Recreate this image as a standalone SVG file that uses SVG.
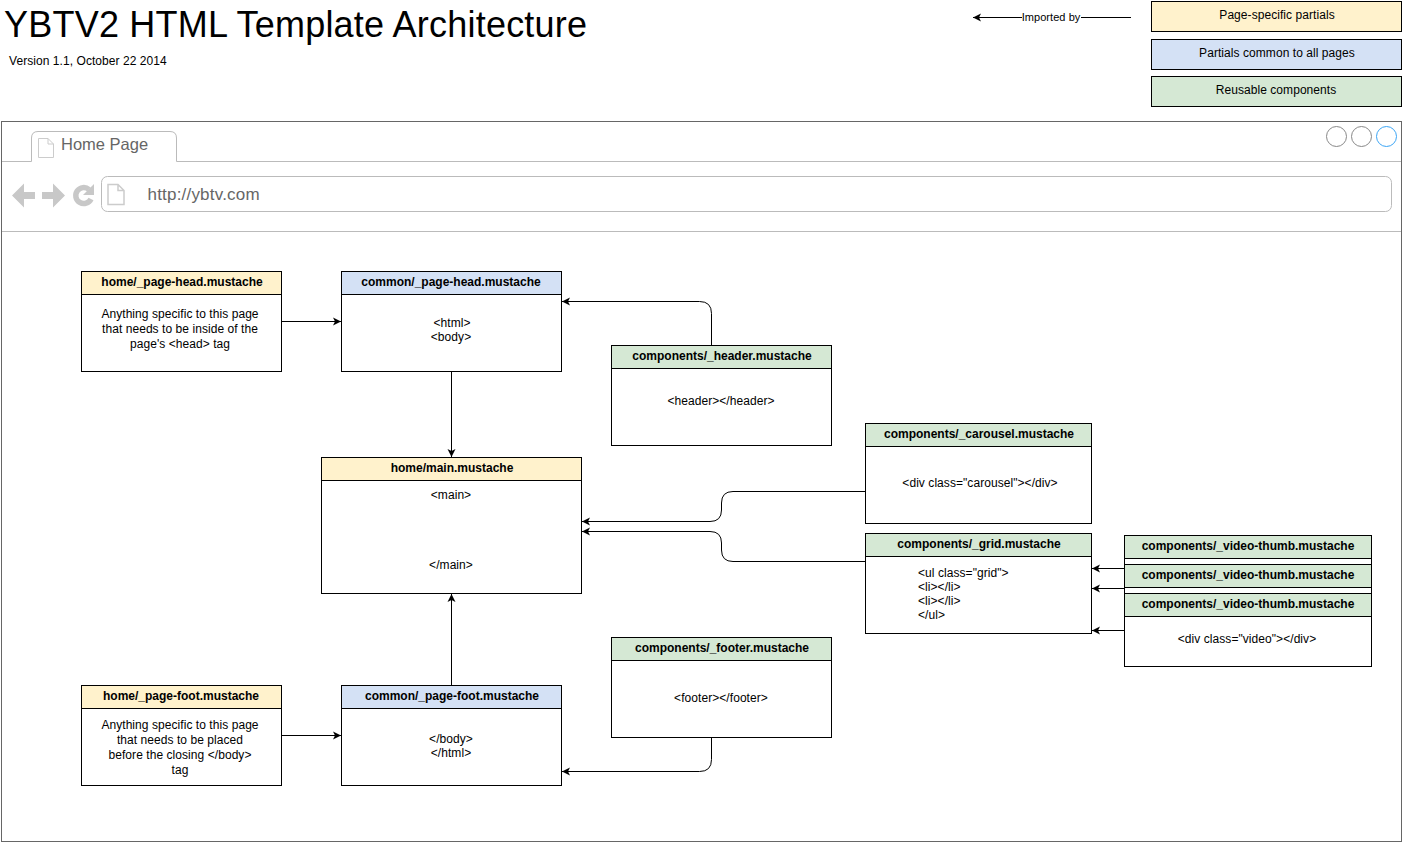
<svg xmlns="http://www.w3.org/2000/svg" width="1404" height="846" viewBox="0 0 1404 846">
<style>
text{font-family:"Liberation Sans",Arial,sans-serif;font-size:12px;fill:#000;text-anchor:middle;letter-spacing:.06px}
text.b{font-weight:bold;letter-spacing:0}
text.s{text-anchor:start}
rect.n{fill:#fff;stroke:#000;stroke-width:1}
rect.y{fill:#fff2cc;stroke:#000;stroke-width:1}
rect.c{fill:#d4e1f5;stroke:#000;stroke-width:1}
rect.g{fill:#d5e8d4;stroke:#000;stroke-width:1}
.l{fill:none;stroke:#000;stroke-width:1;marker-end:url(#a)}
.ui{fill:none;stroke:#bbb;stroke-width:1}
.t{fill:#666;font-size:17px}
</style>
<defs>
<marker id="a" markerUnits="userSpaceOnUse" markerWidth="10" markerHeight="10" refX="8" refY="4" orient="auto" viewBox="0 0 10 8"><path d="M8 4L0 0L2 4L0 8Z" fill="#000"/></marker>
</defs>
<rect width="1404" height="846" fill="#fff"/>
<g id="title">
<text x="4" y="37" class="s" style="font-size:36px;letter-spacing:.22px">YBTV2 HTML Template Architecture</text>
<text x="9" y="65" class="s">Version 1.1, October 22 2014</text>
</g>
<g id="legend">
<rect class="y" x="1151.500" y="1.500" width="250" height="30"/><text x="1277" y="19">Page-specific partials</text>
<rect class="c" x="1151.500" y="39.500" width="250" height="30"/><text x="1277" y="57">Partials common to all pages</text>
<rect class="g" x="1151.500" y="76.500" width="250" height="30"/><text x="1276" y="94">Reusable components</text>
</g>
<g id="browser">
<rect x="1.500" y="121.500" width="1400" height="720" fill="#fff" stroke="#666"/>
<path class="ui" d="M2 161.500H31.500V138Q31.500 131.500 38 131.500H170Q176.500 131.500 176.500 138V161.500H1401"/>
<path class="ui" d="M2 231.500H1401"/>
<path d="M38.500 138.500H48L53.500 144V157.500H38.500Z M48 138.500V144H53.500" fill="#fff" stroke="#ccc"/>
<text x="61" y="150" class="s t" style="font-size:16.500px;letter-spacing:0">Home Page</text>
<rect class="ui" x="101.500" y="176.500" width="1290" height="35" rx="6"/>
<path d="M108 184.500H118L124 190.500V204.500H108Z M118 184.500V190.500H124" fill="#fff" stroke="#ccc" stroke-width="1.500"/>
<text x="147.500" y="200" class="s t" style="letter-spacing:.2px">http://ybtv.com</text>
<path d="M12 195.500L24 183.500V192H35V199H24V207.500Z" fill="#c8c8c8"/>
<path d="M65 195.500L53 183.500V192H42V199H53V207.500Z" fill="#c8c8c8"/>
<path d="M89 189.500A8 8 0 1 0 91 199" fill="none" stroke="#c8c8c8" stroke-width="5.500"/>
<path d="M94 184V195H83Z" fill="#c8c8c8"/>
<circle cx="1336.500" cy="136.500" r="10" fill="none" stroke="#888"/>
<circle cx="1361.500" cy="136.500" r="10" fill="none" stroke="#888"/>
<circle cx="1386.500" cy="136.500" r="10" fill="none" stroke="#3ba5f5"/>
</g>
<g id="connectors">
<path class="l" d="M1131 17.500H973"/>
<path class="l" d="M282 321.500H341"/>
<path class="l" d="M451.500 372V457"/>
<path class="l" d="M711.500 346V313.500Q711.500 301.500 699.500 301.500H562"/>
<path class="l" d="M866 491.500H733Q721.500 491.500 721.500 503V510Q721.500 521.500 710 521.500H582"/>
<path class="l" d="M866 561.500H733Q721.500 561.500 721.500 550V543Q721.500 531.500 710 531.500H582"/>
<path class="l" d="M451.500 686V594"/>
<path class="l" d="M282 735.500H341"/>
<path class="l" d="M711.500 738V759.500Q711.500 771.500 699.500 771.500H562"/>
<path class="l" d="M1125 568.500H1092"/>
<path class="l" d="M1125 588.500H1092"/>
<path class="l" d="M1125 630.500H1092"/>
</g>
<rect x="1022" y="10" width="59" height="14" fill="#fff"/>
<text x="1051" y="21" style="font-size:11px">Imported by</text>
<g id="home-page-head">
<rect class="n" x="81.500" y="271.500" width="200" height="100"/><rect class="y" x="81.500" y="271.500" width="200" height="23"/>
<text class="b" x="182" y="286">home/_page-head.mustache</text>
<text x="180" y="318">Anything specific to this page</text><text x="180" y="333">that needs to be inside of the</text><text x="180" y="348">page's &lt;head&gt; tag</text>
</g>
<g id="common-page-head">
<rect class="n" x="341.500" y="271.500" width="220" height="100"/><rect class="c" x="341.500" y="271.500" width="220" height="23"/>
<text class="b" x="451" y="286">common/_page-head.mustache</text>
<text x="452" y="327">&lt;html&gt;</text><text x="451" y="341">&lt;body&gt;</text>
</g>
<g id="header">
<rect class="n" x="611.500" y="345.500" width="220" height="100"/><rect class="g" x="611.500" y="345.500" width="220" height="23"/>
<text class="b" x="722" y="360">components/_header.mustache</text>
<text x="721" y="405">&lt;header&gt;&lt;/header&gt;</text>
</g>
<g id="home-main">
<rect class="n" x="321.500" y="457.500" width="260" height="136"/><rect class="y" x="321.500" y="457.500" width="260" height="23"/>
<text class="b" x="452" y="472">home/main.mustache</text>
<text x="451" y="499">&lt;main&gt;</text><text x="451" y="569">&lt;/main&gt;</text>
</g>
<g id="carousel">
<rect class="n" x="865.500" y="423.500" width="226" height="100"/><rect class="g" x="865.500" y="423.500" width="226" height="23"/>
<text class="b" x="979" y="438">components/_carousel.mustache</text>
<text x="980" y="487">&lt;div class="carousel"&gt;&lt;/div&gt;</text>
</g>
<g id="grid">
<rect class="n" x="865.500" y="533.500" width="226" height="100"/><rect class="g" x="865.500" y="533.500" width="226" height="23"/>
<text class="b" x="979" y="548">components/_grid.mustache</text>
<text class="s" x="918" y="577">&lt;ul class="grid"&gt;</text><text class="s" x="918" y="591">&lt;li&gt;&lt;/li&gt;</text><text class="s" x="918" y="605">&lt;li&gt;&lt;/li&gt;</text><text class="s" x="918" y="619">&lt;/ul&gt;</text>
</g>
<g id="video-thumb-1">
<rect class="n" x="1124.500" y="535.500" width="247" height="100"/><rect class="g" x="1124.500" y="535.500" width="247" height="23"/>
<text class="b" x="1248" y="550">components/_video-thumb.mustache</text>
</g>
<g id="video-thumb-2">
<rect class="n" x="1124.500" y="564.500" width="247" height="100"/><rect class="g" x="1124.500" y="564.500" width="247" height="23"/>
<text class="b" x="1248" y="579">components/_video-thumb.mustache</text>
</g>
<g id="video-thumb-3">
<rect class="n" x="1124.500" y="593.500" width="247" height="73"/><rect class="g" x="1124.500" y="593.500" width="247" height="23"/>
<text class="b" x="1248" y="608">components/_video-thumb.mustache</text>
<text x="1247" y="643">&lt;div class="video"&gt;&lt;/div&gt;</text>
</g>
<g id="footer">
<rect class="n" x="611.500" y="637.500" width="220" height="100"/><rect class="g" x="611.500" y="637.500" width="220" height="23"/>
<text class="b" x="722" y="652">components/_footer.mustache</text>
<text x="721" y="702">&lt;footer&gt;&lt;/footer&gt;</text>
</g>
<g id="home-page-foot">
<rect class="n" x="81.500" y="685.500" width="200" height="100"/><rect class="y" x="81.500" y="685.500" width="200" height="23"/>
<text class="b" x="181" y="700">home/_page-foot.mustache</text>
<text x="180" y="729">Anything specific to this page</text><text x="180" y="744">that needs to be placed</text><text x="180" y="759">before the closing &lt;/body&gt;</text><text x="180" y="774">tag</text>
</g>
<g id="common-page-foot">
<rect class="n" x="341.500" y="685.500" width="220" height="100"/><rect class="c" x="341.500" y="685.500" width="220" height="23"/>
<text class="b" x="452" y="700">common/_page-foot.mustache</text>
<text x="451" y="743">&lt;/body&gt;</text><text x="451" y="757">&lt;/html&gt;</text>
</g>
</svg>
